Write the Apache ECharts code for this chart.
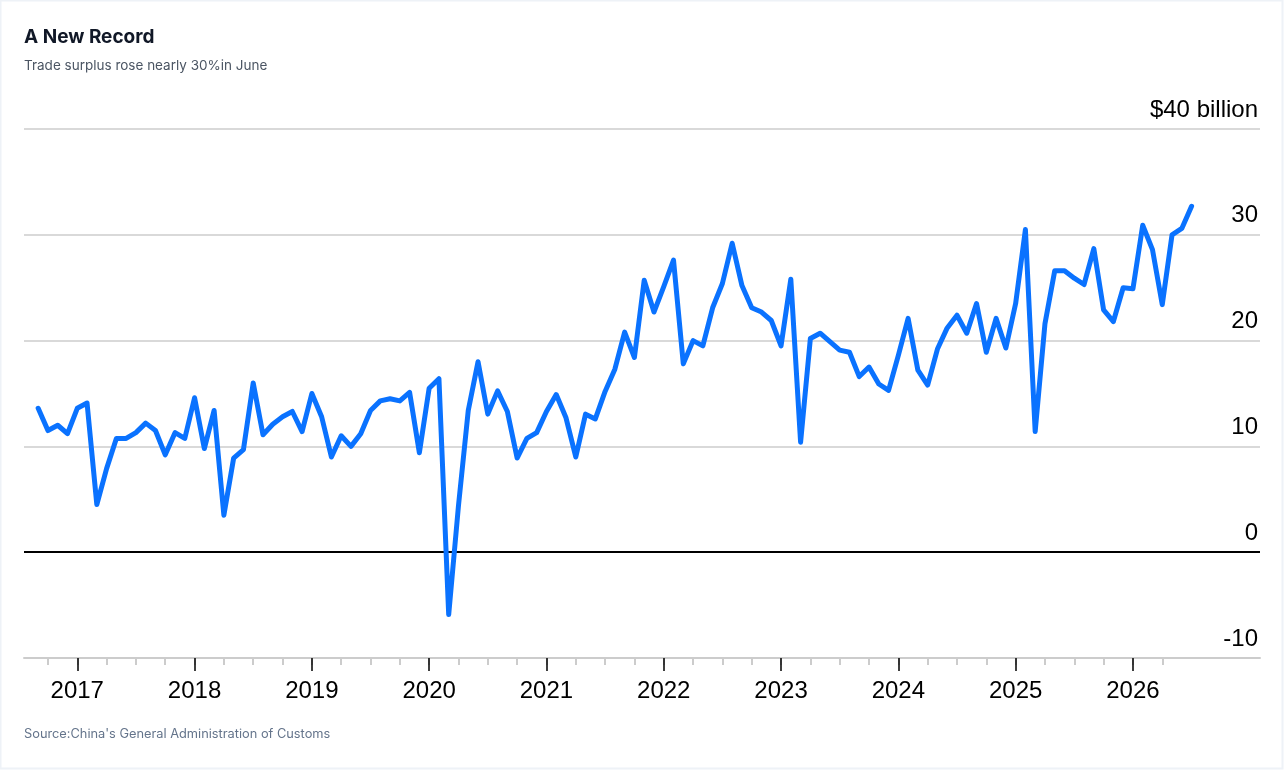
<!DOCTYPE html>
<html>
<head>
<meta charset="utf-8">
<script src="https://cdn.jsdelivr.net/npm/echarts@6/dist/echarts.min.js"></script>
<style>
html,body{margin:0;padding:0;background:#fff;}
#c{width:1284px;height:770px;}
</style>
</head>
<body>
<div id="c"></div>
<script>
// First month of the series (year, month)
const startYear = 2016;
const startMonth = 9;

// Monthly trade surplus, $ billion, Sep 2016 – Jul 2026
const values2016 = [13.6, 11.5, 12.0, 11.2];
const values2017 = [13.6, 14.1, 4.5, 7.9, 10.75, 10.75, 11.3, 12.2, 11.5, 9.2, 11.3, 10.75];
const values2018 = [14.6, 9.8, 13.4, 3.5, 8.9, 9.7, 16.0, 11.1, 12.1, 12.8, 13.3, 11.4];
const values2019 = [15.0, 12.8, 9.0, 11.0, 10.0, 11.2, 13.4, 14.3, 14.5, 14.3, 15.1, 9.4];
const values2020 = [15.5, 16.4, -5.9, 4.4, 13.4, 18.0, 13.05, 15.25, 13.3, 8.9, 10.75, 11.3];
const values2021 = [13.3, 14.9, 12.7, 9.0, 13.05, 12.6, 15.2, 17.3, 20.8, 18.4, 25.7, 22.7];
const values2022 = [25.1, 27.6, 17.8, 20.0, 19.5, 23.1, 25.4, 29.2, 25.2, 23.1, 22.7, 21.9];
const values2023 = [19.5, 25.8, 10.4, 20.2, 20.7, 19.9, 19.1, 18.9, 16.6, 17.5, 15.9, 15.3];
const values2024 = [18.6, 22.1, 17.2, 15.8, 19.2, 21.2, 22.4, 20.7, 23.5, 18.9, 22.1, 19.3];
const values2025 = [23.5, 30.5, 11.4, 21.6, 26.6, 26.6, 25.9, 25.3, 28.7, 22.9, 21.8, 25.0];
const values2026 = [24.9, 30.9, 28.6, 23.4, 30.0, 30.6, 32.7];

const surplus = [].concat(values2016, values2017, values2018, values2019, values2020,
  values2021, values2022, values2023, values2024, values2025, values2026);

// Month labels built from the start month
const months = surplus.map((_, i) => {
  const t = (startMonth - 1) + i;
  const y = startYear + Math.floor(t / 12);
  const m = (t % 12) + 1;
  return y + '-' + (m < 10 ? '0' + m : m);
});

// Axis ticks / labels
const yearLabels = ['2017','2018','2019','2020','2021','2022','2023','2024','2025','2026'];
const yTicks = [-10, 0, 10, 20, 30, 40];
const firstQuarterTick = '2016-10';
const lastQuarterTick = '2026-04';

// month index relative to Jan 2017
const baseYear = 2017;
function monthIndex(s) {
  const p = s.split('-');
  return (parseInt(p[0]) - baseYear) * 12 + (parseInt(p[1]) - 1);
}
const seriesData = months.map((m, i) => [monthIndex(m), surplus[i]]);
const yearTickValues = yearLabels.map(y => monthIndex(y + '-01'));
const quarterTickValues = [];
for (let q = monthIndex(firstQuarterTick); q <= monthIndex(lastQuarterTick); q += 3) quarterTickValues.push(q);

const chart = echarts.init(document.getElementById('c'), null, {renderer: 'canvas'});
const axisFont = '"Liberation Sans", Arial, Helvetica, sans-serif';
const uiFont = 'Inter, "Noto Sans", sans-serif';

chart.setOption({
  backgroundColor: '#ffffff',
  animation: false,
  grid: {left: 24, right: 24, top: 129, bottom: 112, containLabel: false},
  graphic: [
    {type: 'rect', shape: {x: 0.5, y: 0.5, width: 1282, height: 768}, style: {fill: 'none', stroke: '#eef2f7', lineWidth: 2}, silent: true},
    {type: 'text', left: 24, top: 28, style: {text: 'A New Record', font: '700 19px ' + uiFont, fill: '#111827'}},
    {type: 'text', left: 24, top: 59, style: {text: 'Trade surplus rose nearly 30%in June', font: '400 13.5px ' + uiFont, fill: '#4b5563'}},
    {type: 'text', left: 24, top: 728, style: {text: "Source:China's General Administration of Customs", font: '400 12.8px ' + uiFont, fill: '#64748b'}}
  ],
  xAxis: [
    {
      type: 'value', min: -5.45, max: 121, position: 'bottom',
      axisLine: {show: true, onZero: false, lineStyle: {color: '#cccccc', width: 2}},
      axisTick: {show: true, customValues: quarterTickValues, length: 7, lineStyle: {color: '#cccccc', width: 2}},
      axisLabel: {show: false},
      splitLine: {show: false}
    },
    {
      type: 'value', min: -5.45, max: 121, position: 'bottom',
      axisLine: {show: false, onZero: false},
      axisTick: {show: true, customValues: yearTickValues, length: 13, lineStyle: {color: '#000000', width: 1.5}},
      axisLabel: {
        show: true, customValues: yearTickValues, margin: 21,
        fontFamily: axisFont, fontSize: 24, color: '#000000',
        formatter: v => yearLabels[yearTickValues.indexOf(Math.round(v))] || ''
      },
      splitLine: {show: false}
    }
  ],
  yAxis: {
    type: 'value', position: 'right', min: -10, max: 40, interval: 10,
    axisLine: {show: false},
    axisTick: {show: false},
    axisLabel: {
      inside: true, margin: 2, fontFamily: axisFont, fontSize: 24, color: '#000000',
      verticalAlign: 'bottom', lineHeight: 24, padding: [0, 0, 7, 0],
      formatter: v => v === 40 ? '$40 billion' : String(v)
    },
    splitLine: {show: true, lineStyle: {color: '#cccccc', width: 1.5}}
  },
  series: [{
    type: 'line',
    xAxisIndex: 0,
    data: seriesData,
    showSymbol: false,
    symbol: 'none',
    lineStyle: {color: '#0a72ff', width: 5, cap: 'round', join: 'round'},
    z: 5,
    markLine: {
      silent: true, symbol: 'none', label: {show: false},
      lineStyle: {color: '#000000', width: 2, type: 'solid'},
      data: [{yAxis: 0}],
      z: 3
    }
  }]
});
</script>
</body>
</html>
